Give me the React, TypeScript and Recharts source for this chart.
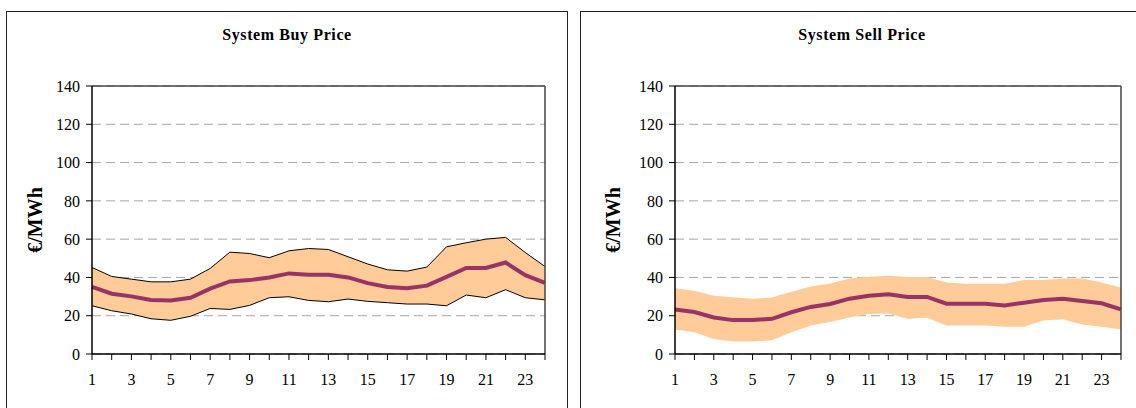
import {
  ComposedChart,
  Area,
  Line,
  XAxis,
  YAxis,
  CartesianGrid,
  ReferenceLine,
} from 'recharts';

// hours of the day
const hours = [1, 2, 3, 4, 5, 6, 7, 8, 9, 10, 11, 12, 13, 14, 15, 16, 17, 18, 19, 20, 21, 22, 23, 24];
const yTicks = [0, 20, 40, 60, 80, 100, 120, 140];

// System Buy Price (EUR/MWh)
const buyHigh = [45.2, 40.5, 39.1, 37.7, 37.7, 39.1, 44.7, 53.2, 52.5, 50.3, 53.9, 55.1, 54.6, 50.8, 47.0, 44.0, 43.3, 45.4, 56.0, 58.1, 60.0, 60.9, 53.0, 45.7];
const buyMid = [35.1, 31.5, 30.1, 28.2, 28.0, 29.4, 34.1, 37.9, 38.6, 40.0, 42.1, 41.4, 41.4, 40.0, 37.0, 35.0, 34.3, 35.7, 40.3, 44.9, 44.9, 47.8, 41.2, 37.2];
const buyLow = [25.2, 22.6, 20.9, 18.4, 17.6, 19.7, 23.8, 23.3, 25.4, 29.4, 29.9, 28.0, 27.3, 28.7, 27.5, 26.8, 26.1, 26.1, 25.2, 30.8, 29.4, 33.6, 29.4, 28.3];

// System Sell Price (EUR/MWh)
const sellHigh = [34.4, 33.0, 30.4, 29.6, 28.9, 29.5, 32.5, 35.3, 36.8, 39.5, 40.4, 40.9, 40.2, 40.2, 37.4, 36.7, 36.7, 36.7, 38.6, 38.6, 39.5, 39.5, 37.4, 34.7];
const sellMid = [23.3, 21.9, 19.1, 17.7, 17.7, 18.4, 21.8, 24.6, 26.1, 28.9, 30.4, 31.2, 29.8, 29.8, 26.3, 26.3, 26.3, 25.4, 26.8, 28.2, 28.9, 27.7, 26.5, 23.3];
const sellLow = [12.8, 11.4, 7.9, 6.5, 6.5, 7.2, 11.4, 14.9, 16.7, 19.1, 20.9, 21.2, 18.4, 18.9, 14.9, 14.9, 14.9, 14.2, 14.2, 17.5, 18.1, 15.4, 14.2, 12.8];

const FONT = "'Liberation Serif', serif";
const BAND = '#FFCC99';
const PURPLE = '#993366';

const buildRows = (low: number[], mid: number[], high: number[]) =>
  hours.map((h, i) => ({ hour: h, low: low[i], mid: mid[i], high: high[i], band: [low[i], high[i]] }));

// only odd hours get a label, every hour keeps its tick mark
const HourTick = ({ x, y, payload }: any) => {
  if (payload.value % 2 === 0) return null;
  return (
    <text x={x} y={y} dy={17} textAnchor="middle" style={{ fontSize: 16, fontFamily: FONT, fill: '#000' }}>
      {payload.value}
    </text>
  );
};

interface PriceChartProps {
  low: number[];
  mid: number[];
  high: number[];
  outline: boolean;
  width: number;
  marginLeft: number;
  marginRight: number;
  labelOffset: number;
}

function PriceChart({ low, mid, high, outline, width, marginLeft, marginRight, labelOffset }: PriceChartProps) {
  const data = buildRows(low, mid, high);
  return (
    <ComposedChart
      width={width}
      height={408}
      data={data}
      style={{ fontFamily: FONT }}
      margin={{ top: 86, right: marginRight, bottom: 24, left: marginLeft }}
    >
      <CartesianGrid vertical={false} stroke="#a6a6a6" strokeDasharray="9 5" />
      <XAxis
        dataKey="hour"
        type="number"
        domain={[1, 24]}
        ticks={hours}
        interval={0}
        height={30}
        tick={<HourTick />}
        tickSize={6}
        tickMargin={8}
        axisLine={{ stroke: '#000', strokeWidth: 1.5 }}
        tickLine={{ stroke: '#000' }}
      />
      <YAxis
        type="number"
        domain={[0, 140]}
        ticks={yTicks}
        interval={0}
        width={70}
        tickSize={6}
        tickMargin={6}
        tick={{ fill: '#000', style: { fontSize: 16, fontFamily: FONT } }}
        axisLine={{ stroke: '#000', strokeWidth: 1.5 }}
        tickLine={{ stroke: '#000' }}
        label={{
          value: '€/MWh',
          angle: -90,
          position: 'insideLeft',
          offset: labelOffset,
          style: { textAnchor: 'middle', fontSize: 20, fontWeight: 'bold', fontFamily: FONT, fill: '#000' },
        }}
      />
      <Area
        dataKey="band"
        fill={BAND}
        fillOpacity={1}
        stroke="none"
        type="linear"
        isAnimationActive={false}
      />
      {outline && (
        <Line dataKey="high" stroke="#000" strokeWidth={1} dot={false} type="linear" isAnimationActive={false} />
      )}
      {outline && (
        <Line dataKey="low" stroke="#000" strokeWidth={1} dot={false} type="linear" isAnimationActive={false} />
      )}
      <Line dataKey="mid" stroke={PURPLE} strokeWidth={4} dot={false} type="linear" isAnimationActive={false} />
      {/* plot area border, top and right */}
      <ReferenceLine y={140} stroke="#444" strokeWidth={1.5} />
      <ReferenceLine x={24} stroke="#444" strokeWidth={1.5} />
    </ComposedChart>
  );
}

const titleStyle = {
  position: 'absolute' as const,
  top: 25,
  width: 300,
  textAlign: 'center' as const,
  fontFamily: FONT,
  fontWeight: 'bold' as const,
  fontSize: 16,
  letterSpacing: 0.6,
  lineHeight: '20px',
  color: '#000',
};

export default function App() {
  return (
    <div style={{ position: 'absolute', left: 0, top: 0, width: 1136, height: 408, overflow: 'hidden', background: '#fff', fontFamily: FONT }}>
      <div style={{ position: 'absolute', left: 6, top: 11, width: 560, height: 420, border: '1.5px solid #222' }} />
      <div style={{ position: 'absolute', left: 580, top: 11, width: 600, height: 420, border: '1.5px solid #222' }} />
      <div style={{ ...titleStyle, left: 287 - 150 }}>System Buy Price</div>
      <div style={{ ...titleStyle, left: 862 - 150 }}>System Sell Price</div>
      <div style={{ position: 'absolute', left: 0, top: 0 }}>
        <PriceChart low={buyLow} mid={buyMid} high={buyHigh} outline width={568} marginLeft={22} marginRight={23} labelOffset={13} />
      </div>
      <div style={{ position: 'absolute', left: 580, top: 0 }}>
        <PriceChart low={sellLow} mid={sellMid} high={sellHigh} outline={false} width={556} marginLeft={25} marginRight={15} labelOffset={8} />
      </div>
    </div>
  );
}
